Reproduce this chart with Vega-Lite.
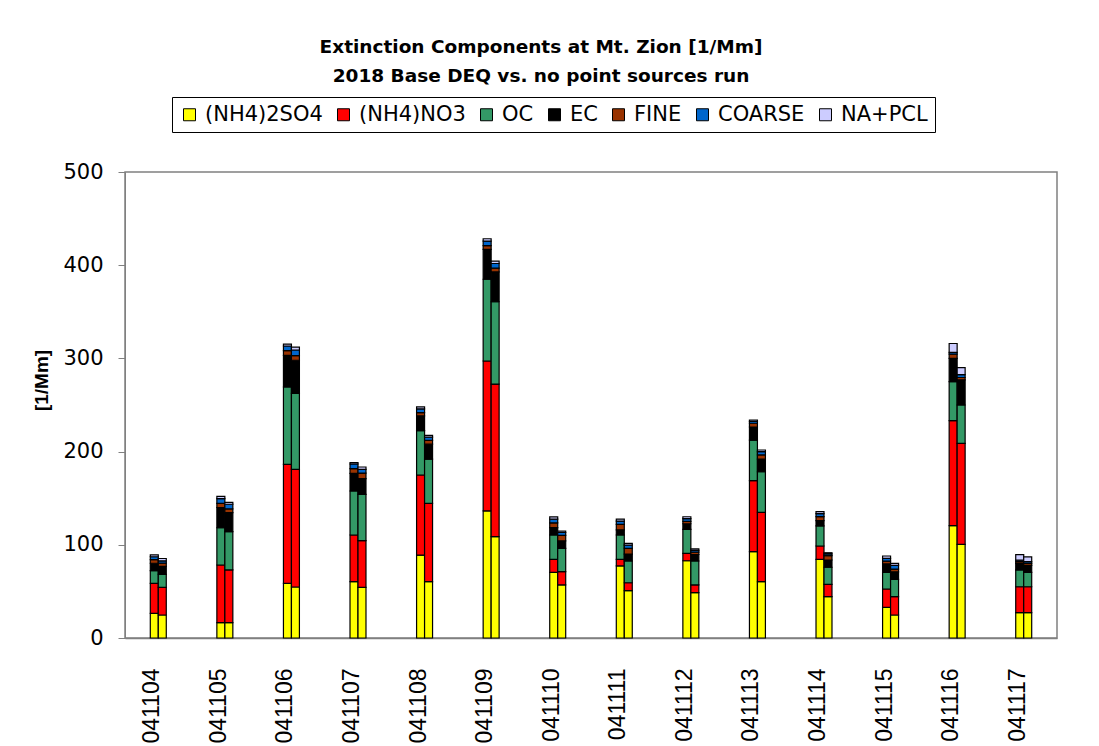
{
  "$schema": "https://vega.github.io/schema/vega-lite/v6.json",
  "width": 932,
  "height": 466,
  "autosize": {"type": "none"},
  "padding": {"left": 125, "top": 172, "right": 42, "bottom": 108},
  "background": "white",
  "title": {
    "text": ["Extinction Components at Mt. Zion [1/Mm]", "2018 Base  DEQ  vs. no point sources run"],
    "font": "DejaVu Sans",
    "fontWeight": "bold",
    "fontSize": 18.5,
    "lineHeight": 29,
    "color": "black",
    "anchor": "middle",
    "frame": "group",
    "dx": -50,
    "offset": 11
  },
  "datasets": {
    "components": [
      {"component": "(NH4)2SO4", "stackRank": 1},
      {"component": "(NH4)NO3", "stackRank": 2},
      {"component": "OC", "stackRank": 3},
      {"component": "EC", "stackRank": 4},
      {"component": "FINE", "stackRank": 5},
      {"component": "COARSE", "stackRank": 6},
      {"component": "NA+PCL", "stackRank": 7}
    ],
    "extinction": [
      {"date": "041104", "run": "Base", "(NH4)2SO4": 26.5, "(NH4)NO3": 32.2, "OC": 13.5, "EC": 8, "FINE": 4, "COARSE": 3, "NA+PCL": 2},
      {"date": "041104", "run": "NoPoint", "(NH4)2SO4": 24.7, "(NH4)NO3": 29.7, "OC": 13.9, "EC": 8.5, "FINE": 3.5, "COARSE": 2.5, "NA+PCL": 2.5},
      {"date": "041105", "run": "Base", "(NH4)2SO4": 16.4, "(NH4)NO3": 61.9, "OC": 40, "EC": 21.7, "FINE": 4.5, "COARSE": 5, "NA+PCL": 2.5},
      {"date": "041105", "run": "NoPoint", "(NH4)2SO4": 16.4, "(NH4)NO3": 56.6, "OC": 41.1, "EC": 20.4, "FINE": 4, "COARSE": 5, "NA+PCL": 2},
      {"date": "041106", "run": "Base", "(NH4)2SO4": 58.7, "(NH4)NO3": 127.7, "OC": 82.9, "EC": 34, "FINE": 5, "COARSE": 5, "NA+PCL": 2},
      {"date": "041106", "run": "NoPoint", "(NH4)2SO4": 54.7, "(NH4)NO3": 126.3, "OC": 81.5, "EC": 35.5, "FINE": 5, "COARSE": 6, "NA+PCL": 3},
      {"date": "041107", "run": "Base", "(NH4)2SO4": 60.4, "(NH4)NO3": 50.1, "OC": 47.2, "EC": 19, "FINE": 5, "COARSE": 5, "NA+PCL": 1.5},
      {"date": "041107", "run": "NoPoint", "(NH4)2SO4": 54.4, "(NH4)NO3": 50, "OC": 49.8, "EC": 16.8, "FINE": 6, "COARSE": 4, "NA+PCL": 2.5},
      {"date": "041108", "run": "Base", "(NH4)2SO4": 89, "(NH4)NO3": 85.9, "OC": 47.5, "EC": 16, "FINE": 3.5, "COARSE": 4, "NA+PCL": 2},
      {"date": "041108", "run": "NoPoint", "(NH4)2SO4": 60.4, "(NH4)NO3": 84.1, "OC": 47.5, "EC": 16, "FINE": 4, "COARSE": 3.5, "NA+PCL": 2},
      {"date": "041109", "run": "Base", "(NH4)2SO4": 136.4, "(NH4)NO3": 160.8, "OC": 87.7, "EC": 32, "FINE": 4, "COARSE": 5, "NA+PCL": 2.5},
      {"date": "041109", "run": "NoPoint", "(NH4)2SO4": 108.7, "(NH4)NO3": 163.8, "OC": 88.3, "EC": 32, "FINE": 4, "COARSE": 5, "NA+PCL": 2.5},
      {"date": "041110", "run": "Base", "(NH4)2SO4": 70.5, "(NH4)NO3": 13.9, "OC": 26.1, "EC": 8, "FINE": 5, "COARSE": 4, "NA+PCL": 2.5},
      {"date": "041110", "run": "NoPoint", "(NH4)2SO4": 56.9, "(NH4)NO3": 14.3, "OC": 25, "EC": 8, "FINE": 6, "COARSE": 3, "NA+PCL": 1.5},
      {"date": "041111", "run": "Base", "(NH4)2SO4": 77.3, "(NH4)NO3": 7.1, "OC": 26.1, "EC": 5.5, "FINE": 6, "COARSE": 3.5, "NA+PCL": 2},
      {"date": "041111", "run": "NoPoint", "(NH4)2SO4": 50.8, "(NH4)NO3": 8.5, "OC": 23.3, "EC": 7.5, "FINE": 6, "COARSE": 3.5, "NA+PCL": 2},
      {"date": "041112", "run": "Base", "(NH4)2SO4": 82.9, "(NH4)NO3": 8, "OC": 25.7, "EC": 6, "FINE": 2.5, "COARSE": 3, "NA+PCL": 2},
      {"date": "041112", "run": "NoPoint", "(NH4)2SO4": 48.6, "(NH4)NO3": 8.3, "OC": 25.7, "EC": 7, "FINE": 2.5, "COARSE": 2, "NA+PCL": 1.5},
      {"date": "041113", "run": "Base", "(NH4)2SO4": 92.6, "(NH4)NO3": 76.2, "OC": 43.6, "EC": 14, "FINE": 4, "COARSE": 2, "NA+PCL": 1.5},
      {"date": "041113", "run": "NoPoint", "(NH4)2SO4": 60.4, "(NH4)NO3": 74.4, "OC": 43.6, "EC": 13.6, "FINE": 4.4, "COARSE": 3.5, "NA+PCL": 1.8},
      {"date": "041114", "run": "Base", "(NH4)2SO4": 84.4, "(NH4)NO3": 14.3, "OC": 21.5, "EC": 5.7, "FINE": 4.3, "COARSE": 3.3, "NA+PCL": 2},
      {"date": "041114", "run": "NoPoint", "(NH4)2SO4": 44.3, "(NH4)NO3": 13.3, "OC": 18.3, "EC": 7.8, "FINE": 4.6, "COARSE": 2, "NA+PCL": 1.2},
      {"date": "041115", "run": "Base", "(NH4)2SO4": 32.9, "(NH4)NO3": 19.7, "OC": 17.9, "EC": 9, "FINE": 3, "COARSE": 3, "NA+PCL": 2.5},
      {"date": "041115", "run": "NoPoint", "(NH4)2SO4": 24.7, "(NH4)NO3": 19.6, "OC": 18.7, "EC": 8, "FINE": 3, "COARSE": 4, "NA+PCL": 2},
      {"date": "041116", "run": "Base", "(NH4)2SO4": 120.5, "(NH4)NO3": 112.7, "OC": 41.8, "EC": 25, "FINE": 4.5, "COARSE": 2, "NA+PCL": 9.5},
      {"date": "041116", "run": "NoPoint", "(NH4)2SO4": 100.5, "(NH4)NO3": 108.4, "OC": 41.1, "EC": 27, "FINE": 2.5, "COARSE": 3, "NA+PCL": 7.5},
      {"date": "041117", "run": "Base", "(NH4)2SO4": 27.2, "(NH4)NO3": 27.8, "OC": 18, "EC": 7, "FINE": 2, "COARSE": 1.5, "NA+PCL": 6},
      {"date": "041117", "run": "NoPoint", "(NH4)2SO4": 27.2, "(NH4)NO3": 27.8, "OC": 15.5, "EC": 7.5, "FINE": 2, "COARSE": 2, "NA+PCL": 5}
    ]
  },
  "data": {"name": "extinction"},
  "transform": [
    {"fold": ["(NH4)2SO4", "(NH4)NO3", "OC", "EC", "FINE", "COARSE", "NA+PCL"], "as": ["component", "ext"]},
    {"lookup": "component", "from": {"data": {"name": "components"}, "key": "component", "fields": ["stackRank"]}}
  ],
  "mark": {"type": "bar", "stroke": "black", "strokeWidth": 1.2},
  "encoding": {
    "x": {
      "field": "date",
      "type": "nominal",
      "scale": {"paddingInner": 0.76, "paddingOuter": 0.38},
      "axis": {
        "title": null,
        "labelAngle": 270,
        "labelFont": "Liberation Sans",
        "labelFontSize": 23,
        "labelColor": "black",
        "labelPadding": 30,
        "labelOffset": -6,
        "ticks": false,
        "domainColor": "#808080",
        "domainWidth": 1.5
      }
    },
    "xOffset": {
      "field": "run",
      "type": "nominal",
      "scale": {"paddingInner": 0, "paddingOuter": 0}
    },
    "y": {
      "field": "ext",
      "type": "quantitative",
      "stack": "zero",
      "scale": {"domain": [0, 500], "nice": false},
      "axis": {
        "title": "[1/Mm]",
        "titleFont": "Liberation Sans",
        "titleFontWeight": "bold",
        "titleFontSize": 19,
        "titleColor": "black",
        "titleAngle": 270,
        "titleX": -74,
        "titleY": 208,
        "titleBaseline": "bottom",
        "values": [0, 100, 200, 300, 400, 500],
        "labelFont": "DejaVu Sans",
        "labelFontSize": 21,
        "labelColor": "black",
        "labelPadding": 15,
        "tickSize": 7,
        "tickColor": "#808080",
        "domainColor": "#808080",
        "grid": false
      }
    },
    "color": {
      "field": "component",
      "type": "nominal",
      "sort": ["(NH4)2SO4", "(NH4)NO3", "OC", "EC", "FINE", "COARSE", "NA+PCL"],
      "scale": {
        "domain": ["(NH4)2SO4", "(NH4)NO3", "OC", "EC", "FINE", "COARSE", "NA+PCL"],
        "range": ["#FFFF00", "#FF0000", "#339966", "#000000", "#993300", "#0066CC", "#CCCCFF"]
      },
      "legend": {
        "title": null,
        "orient": "none",
        "legendX": 47,
        "legendY": -75,
        "direction": "horizontal",
        "columns": 7,
        "columnPadding": 10,
        "symbolType": "square",
        "symbolSize": 144,
        "symbolStrokeColor": "black",
        "symbolStrokeWidth": 1,
        "labelFont": "DejaVu Sans",
        "labelFontSize": 21,
        "labelColor": "black",
        "labelOffset": 5,
        "labelLimit": 300,
        "strokeColor": "black",
        "fillColor": "white",
        "padding": 7
      }
    },
    "order": {"field": "stackRank", "type": "quantitative", "sort": "ascending"}
  },
  "config": {
    "view": {"stroke": "#808080", "strokeWidth": 1.5},
    "legend": {"symbolOpacity": 1}
  }
}
